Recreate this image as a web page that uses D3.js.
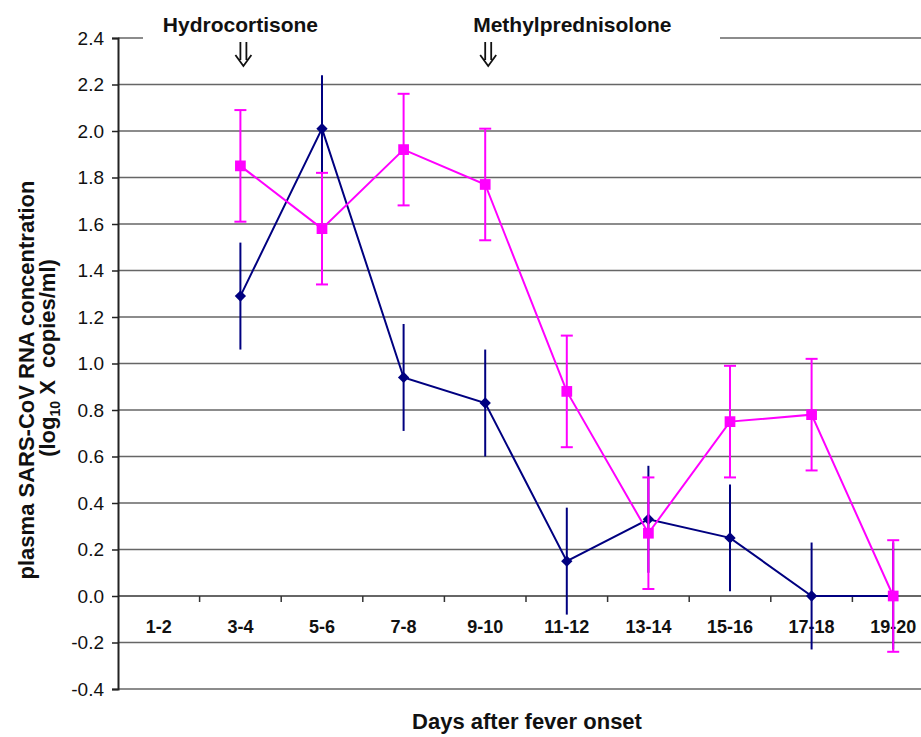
<!DOCTYPE html>
<html>
<head>
<meta charset="utf-8">
<script src="https://cdn.jsdelivr.net/npm/d3@7"></script>
<style>
  body { margin: 0; background: #fff; }
  svg { display: block; font-family: "Liberation Sans", Arial, sans-serif; }
</style>
</head>
<body>
<svg id="chart" width="921" height="737"></svg>
<script>
// days after fever onset
const categories = ["1-2", "3-4", "5-6", "7-8", "9-10", "11-12", "13-14", "15-16", "17-18", "19-20"];

// blue series (diamonds), mean and error
const blueValues = [null, 1.29, 2.01, 0.94, 0.83, 0.15, 0.33, 0.25, 0.00, 0.00];
const blueErr    = [null, 0.23, 0.23, 0.23, 0.23, 0.23, 0.23, 0.23, 0.23, 0.23];

// magenta series (squares), mean and error
const magentaValues = [null, 1.85, 1.58, 1.92, 1.77, 0.88, 0.27, 0.75, 0.78, 0.00];
const magentaErr    = [null, 0.24, 0.24, 0.24, 0.24, 0.24, 0.24, 0.24, 0.24, 0.24];

const yTicks = [-0.4, -0.2, 0.0, 0.2, 0.4, 0.6, 0.8, 1.0, 1.2, 1.4, 1.6, 1.8, 2.0, 2.2, 2.4];

// treatment annotations
const treatments = [
  {label: "Hydrocortisone", day: "3-4", anchor: "middle", dx: 0},
  {label: "Methylprednisolone", day: "9-10", anchor: "start", dx: -12}
];

const svg = d3.select("#chart");
const W = 921;
const FONT = "\"Liberation Sans\", Arial, sans-serif";

const x = d3.scaleBand().domain(categories).range([118, 934]);
const y = d3.scaleLinear().domain([-0.4, 2.4]).range([689, 38]);

// gridlines
svg.append("g")
  .selectAll("line")
  .data(yTicks)
  .join("line")
    .attr("x1", 118).attr("x2", W)
    .attr("y1", d => y(d)).attr("y2", d => y(d))
    .attr("stroke", d => d === 0 ? "#333" : "#666")
    .attr("stroke-width", 1.6);

// y axis
const fmt = d3.format(".1f");
const yAxis = svg.append("g")
  .attr("transform", "translate(118,0)")
  .call(d3.axisLeft(y).tickValues(yTicks).tickFormat(d => fmt(d).replace("\u2212", "-")).tickSize(6).tickPadding(8));
yAxis.select(".domain").attr("stroke", "#222").attr("stroke-width", 2);
yAxis.selectAll(".tick line").attr("stroke", "#222").attr("stroke-width", 1.5);
yAxis.selectAll("text").attr("font-size", 19).attr("fill", "#111").attr("font-family", FONT);

// x axis on zero line, ticks at band boundaries
const xAxis = svg.append("g")
  .attr("transform", `translate(0,${y(0)})`)
  .call(d3.axisBottom(x).tickSize(0).tickPadding(24));
xAxis.select(".domain").remove();
xAxis.selectAll("text").attr("font-size", 18).attr("font-weight", "bold").attr("fill", "#111")
  .attr("font-family", FONT);
svg.append("g")
  .selectAll("line")
  .data(categories.slice(1))
  .join("line")
    .attr("x1", d => x(d)).attr("x2", d => x(d))
    .attr("y1", y(0)).attr("y2", y(0) + 6)
    .attr("stroke", "#333").attr("stroke-width", 1.5);

// cover the top gridline behind the annotations
svg.append("rect")
  .attr("x", 143).attr("y", 30).attr("width", 720 - 143).attr("height", 16)
  .attr("fill", "#fff");

treatments.forEach(t => {
  const cx = x(t.day) + x.bandwidth() / 2 + 3;
  svg.append("text")
    .attr("x", t.anchor === "middle" ? cx - 3 : cx - 3 + t.dx)
    .attr("y", 32)
    .attr("text-anchor", t.anchor)
    .attr("font-size", 21).attr("font-weight", "bold").attr("fill", "#111")
    .text(t.label);
  // double arrow pointing down
  svg.append("path")
    .attr("d", `M${cx - 3},42 V60 M${cx + 3},42 V60 M${cx - 8},55 L${cx},66 L${cx + 8},55`)
    .attr("fill", "none")
    .attr("stroke", "#111")
    .attr("stroke-width", 1.8);
});

function drawSeries(values, errs, color, symbol, size, rotate, caps) {
  const pts = categories.map((c, i) => ({c, v: values[i], e: errs[i]})).filter(d => d.v !== null);
  const cx = d => x(d.c) + x.bandwidth() / 2;
  const g = svg.append("g");

  g.selectAll("line.err")
    .data(pts)
    .join("line")
      .attr("class", "err")
      .attr("x1", cx).attr("x2", cx)
      .attr("y1", d => y(d.v + d.e)).attr("y2", d => y(d.v - d.e))
      .attr("stroke", color).attr("stroke-width", 2);

  if (caps) {
    ["top", "bot"].forEach(side => {
      g.selectAll("line.cap-" + side)
        .data(pts)
        .join("line")
          .attr("class", "cap-" + side)
          .attr("x1", d => cx(d) - 6).attr("x2", d => cx(d) + 6)
          .attr("y1", d => y(side === "top" ? d.v + d.e : d.v - d.e))
          .attr("y2", d => y(side === "top" ? d.v + d.e : d.v - d.e))
          .attr("stroke", color).attr("stroke-width", 2);
    });
  }

  g.append("path")
    .datum(pts)
    .attr("fill", "none")
    .attr("stroke", color)
    .attr("stroke-width", 2)
    .attr("d", d3.line().x(cx).y(d => y(d.v)));

  g.selectAll("path.mark")
    .data(pts)
    .join("path")
      .attr("class", "mark")
      .attr("transform", d => `translate(${cx(d)},${y(d.v)}) rotate(${rotate})`)
      .attr("d", d3.symbol().type(symbol).size(size))
      .attr("fill", color);
}

drawSeries(blueValues, blueErr, "#000080", d3.symbolSquare, 64, 45, false);
drawSeries(magentaValues, magentaErr, "#ff00ff", d3.symbolSquare, 115, 0, true);

// axis titles
svg.append("text")
  .attr("x", 527).attr("y", 729)
  .attr("text-anchor", "middle")
  .attr("font-size", 22).attr("font-weight", "bold").attr("fill", "#111")
  .text("Days after fever onset");

svg.append("text")
  .attr("transform", "translate(34,380) rotate(-90)")
  .attr("text-anchor", "middle")
  .attr("font-size", 22).attr("font-weight", "bold").attr("fill", "#111")
  .text("plasma SARS-CoV RNA concentration");

const t2 = svg.append("text")
  .attr("transform", "translate(55,358) rotate(-90)")
  .attr("text-anchor", "middle")
  .attr("font-size", 22).attr("font-weight", "bold").attr("fill", "#111")
  .attr("xml:space", "preserve")
  .style("white-space", "pre");
t2.append("tspan").text("(log");
t2.append("tspan").attr("font-size", 14).attr("dy", 5).text("10");
t2.append("tspan").attr("dy", -5).text(" X  copies/ml)");
</script>
</body>
</html>
